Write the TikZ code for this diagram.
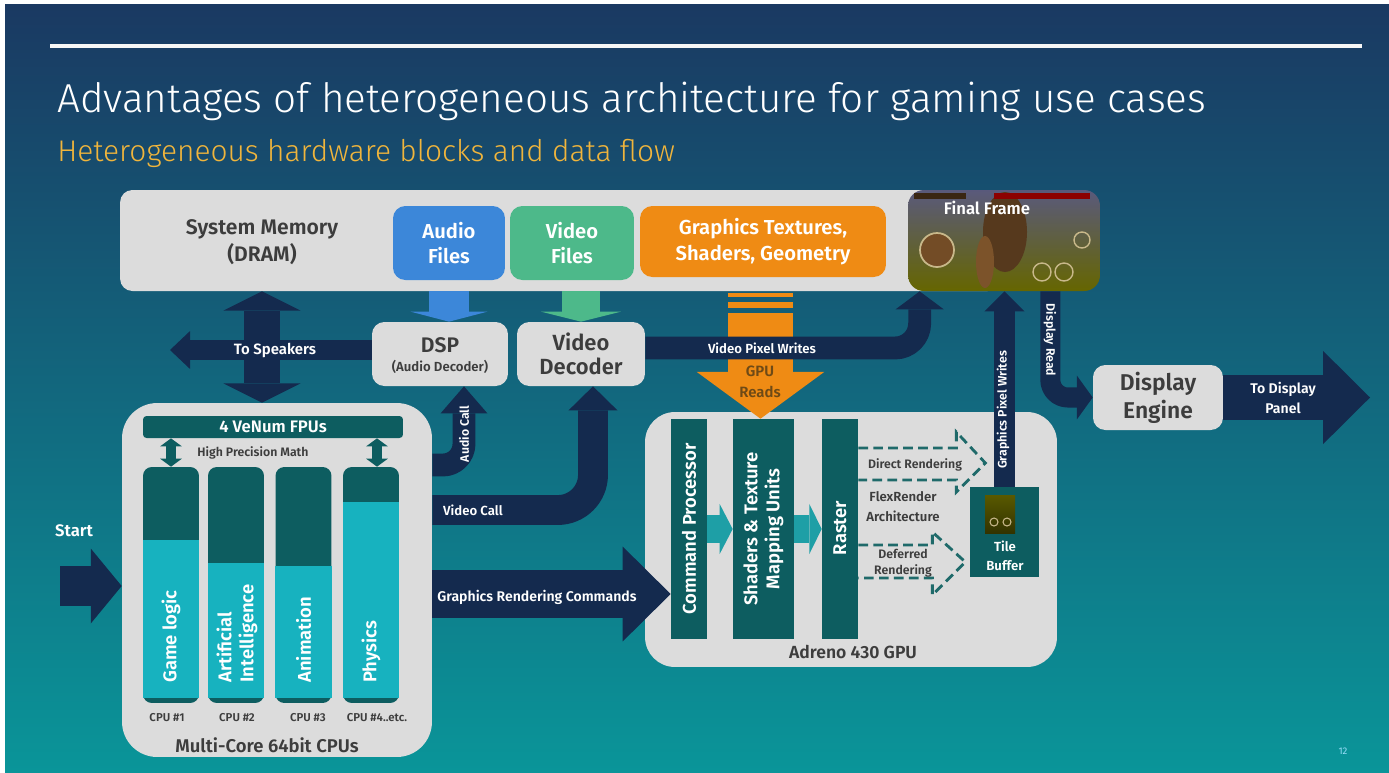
\documentclass[tikz,border=0pt]{standalone}
\usepackage{fontspec}
\setmainfont{Fira Sans}[BoldFont={Fira Sans SemiBold}]
\newfontfamily\lightfont{Fira Sans Light}
\usetikzlibrary{arrows.meta,calc}
\definecolor{bgtop}{HTML}{1A3962}
\definecolor{bgmid}{HTML}{106A7E}
\definecolor{bgbot}{HTML}{0A9599}
\definecolor{memgray}{HTML}{DCDCDC}
\definecolor{navy}{HTML}{142A4E}
\definecolor{audioblue}{HTML}{3C87D9}
\definecolor{videogreen}{HTML}{4DB98A}
\definecolor{gfxorange}{HTML}{EF8B14}
\definecolor{darkteal}{HTML}{0D5D60}
\definecolor{coreteal}{HTML}{17B2BF}
\definecolor{flowteal}{HTML}{1E9FA6}
\definecolor{txtgray}{HTML}{3D3D3D}
\definecolor{dashteal}{HTML}{1F6A6A}
\definecolor{subyellow}{HTML}{F0B53C}
\definecolor{readbrown}{HTML}{6E4A16}
\definecolor{hudbeige}{HTML}{C8B88A}
\newcommand{\txtsize}[2]{\fontsize{#1}{#2}\selectfont\bfseries}
\tikzstyle{graybox}=[fill=memgray, rounded corners=7pt, inner sep=0pt]
\tikzstyle{filebox}=[rounded corners=7pt, inner sep=0pt, minimum height=1.48cm, text=white, align=center, font=\txtsize{11.5}{14.5}]
\tikzstyle{tealbox}=[fill=darkteal, inner sep=0pt, minimum height=4.4cm]
\tikzstyle{corebox}=[fill=darkteal, rounded corners=5pt, inner sep=0pt, minimum width=1.12cm, minimum height=4.72cm]
\tikzstyle{darktxt}=[text=txtgray, align=center, inner sep=0pt]
\tikzstyle{whitetxt}=[text=white, align=center, inner sep=0pt]
\tikzstyle{coretxt}=[whitetxt, rotate=90, anchor=west, align=left, font=\txtsize{10.5}{12.5}]
\tikzstyle{navyflow}=[draw=navy, line join=round]
\tikzstyle{dashflow}=[draw=dashteal, line width=1.6pt, dash pattern=on 5.5pt off 3pt]

\begin{document}
\begin{tikzpicture}[x=0.02cm, y=-0.02cm]
\useasboundingbox (0,0) rectangle (1389,772);
\fill[white] (0,0) rectangle (1389,772);
\shade[top color=bgtop, middle color=bgmid, bottom color=bgbot] (5,4) rectangle (1389,772);
\draw[white!94!gray, line width=2.8pt] (50,46) -- (1362,46);
\node[anchor=base west, inner sep=0pt, text=white, font=\lightfont\fontsize{23}{27}\selectfont] (title) at (57,112) {Advantages of heterogeneous architecture for gaming use cases};
\node[anchor=base west, inner sep=0pt, text=subyellow, font=\lightfont\fontsize{17}{20}\selectfont] (subtitle) at (57,161) {Heterogeneous hardware blocks and data flow};

% memory row
\node[graybox, minimum width=17.6cm, minimum height=2.02cm] (mem) at (560,240.5) {};
\node[darktxt, font=\txtsize{12}{15}] (memtext) at (262,242) {System Memory\\(DRAM)};
\node[filebox, fill=audioblue, minimum width=2.24cm] (audio) at (449,243) {Audio\\Files};
\node[filebox, fill=videogreen, minimum width=2.48cm] (videof) at (572,243) {Video\\Files};
\node[filebox, fill=gfxorange, minimum width=4.92cm, minimum height=1.42cm, font=\txtsize{11.5}{14.5}] (gfx) at (763,241.5) {Graphics Textures,\\Shaders, Geometry};

% final frame
\node[rounded corners=9pt, inner sep=0pt, minimum width=3.84cm, minimum height=2.02cm, top color=black!55!blue!30!gray, middle color=black!50!olive, bottom color=olive!80!black] (frame) at (1004,240.5) {};
\fill[black!55!brown] (1005,232) ellipse [x radius=22, y radius=40];
\fill[black!35!brown] (985,262) ellipse [x radius=9, y radius=26];
\draw[hudbeige, line width=1pt, fill=black!40!brown] (937,250) circle [radius=17];
\draw[hudbeige, line width=0.8pt] (1042,272) circle [radius=9] (1064,272) circle [radius=9] (1082,240) circle [radius=8];
\fill[black!70!brown] (914,193) rectangle (966,199);
\fill[red!55!black] (994,193) rectangle (1090,199);
\node[whitetxt, font=\txtsize{9.5}{11}] (frametext) at (987,208) {Final Frame};

% decoders and display
\node[graybox, minimum width=2.72cm, minimum height=1.28cm] (dsp) at (440,354) {};
\node[darktxt, font=\txtsize{12}{14}] (dspname) at (440,345) {DSP};
\node[darktxt, font=\txtsize{7.5}{9}] (dspnote) at (440,367) {(Audio Decoder)};
\node[graybox, minimum width=2.56cm, minimum height=1.28cm, darktxt, font=\txtsize{12.5}{14}] (vdec) at (581,354) {Video\\Decoder};
\node[graybox, minimum width=2.6cm, minimum height=1.3cm, darktxt, font=\txtsize{13}{16}] (disp) at (1158,397.5) {Display\\Engine};

% cpu cluster
\node[fill=memgray, rounded corners=20pt, inner sep=0pt, minimum width=6.2cm, minimum height=7.08cm] (cpus) at (277,580) {};
\node[fill=darkteal, rounded corners=2pt, inner sep=0pt, minimum width=5.2cm, minimum height=0.44cm, whitetxt, font=\txtsize{9.5}{11}] (fpu) at (273,427) {4 VeNum FPUs};
\node[darktxt, font=\txtsize{7}{8}] (precision) at (253,453) {High Precision Math};
\node[corebox] (c1) at (171,585) {};
\node[corebox] (c2) at (236,585) {};
\node[corebox] (c3) at (303.5,585) {};
\node[corebox] (c4) at (371,585) {};
\fill[coreteal] ($(c1.south west)+(0,-5)$) rectangle ($(c1.south east)+(0,-163)$);
\fill[coreteal] ($(c2.south west)+(0,-5)$) rectangle ($(c2.south east)+(0,-140)$);
\fill[coreteal] ($(c3.south west)+(0,-5)$) rectangle ($(c3.south east)+(0,-137)$);
\fill[coreteal] ($(c4.south west)+(0,-5)$) rectangle ($(c4.south east)+(0,-201)$);
\node[coretxt] (c1text) at (171,683) {Game logic};
\node[coretxt] (c2text) at (237,683) {Artificial\\Intelligence};
\node[coretxt] (c3text) at (303.5,683) {Animation};
\node[coretxt] (c4text) at (371,683) {Physics};
\node[darktxt, font=\txtsize{6.5}{8}] (cpu1) at (167,718) {CPU \#1};
\node[darktxt, font=\txtsize{6.5}{8}] (cpu2) at (237,718) {CPU \#2};
\node[darktxt, font=\txtsize{6.5}{8}] (cpu3) at (308,718) {CPU \#3};
\node[darktxt, font=\txtsize{6.5}{8}] (cpu4) at (377,718) {CPU \#4..etc.};
\node[darktxt, font=\txtsize{10.5}{12}] (cpuname) at (267,745) {Multi-Core 64bit CPUs};
\draw[darkteal, line width=5.7pt, {Triangle[length=4.6pt,width=12.5pt,line width=0pt]}-{Triangle[length=4.6pt,width=12.5pt,line width=0pt]}] (c1 |- fpu.south) -- (c1.north);
\draw[darkteal, line width=5.7pt, {Triangle[length=4.6pt,width=12.5pt,line width=0pt]}-{Triangle[length=4.6pt,width=12.5pt,line width=0pt]}] ($(c4 |- fpu.south)+(6,0)$) -- ($(c4.north)+(6,0)$);

% gpu
\node[fill=memgray, rounded corners=17pt, inner sep=0pt, minimum width=8.24cm, minimum height=5.1cm] (gpu) at (851,539.5) {};
\node[tealbox, minimum width=0.72cm] (cp) at (689,529) {};
\node[tealbox, minimum width=1.22cm] (stmu) at (763.5,529) {};
\node[tealbox, minimum width=0.72cm] (raster) at (840,529) {};
\node[whitetxt, rotate=90, font=\txtsize{10.5}{12.5}] (cptext) at (689,529) {Command Processor};
\node[whitetxt, rotate=90, font=\txtsize{10.5}{12.5}] (stmutext) at (763.5,529) {Shaders \& Texture\\Mapping Units};
\node[whitetxt, rotate=90, font=\txtsize{10.5}{12.5}] (rastertext) at (840,528) {Raster};
\node[fill=darkteal, inner sep=0pt, minimum width=1.38cm, minimum height=1.8cm] (tile) at (1004.5,532) {};
\shade[top color=olive!70!black, bottom color=olive!40!black] (985,495) rectangle (1015,533);
\draw[hudbeige, line width=0.6pt] (994,522) circle [radius=4] (1007,522) circle [radius=4];
\node[whitetxt, font=\txtsize{7.5}{10.5}] (tiletext) at (1005,556) {Tile\\Buffer};
\node[darktxt, font=\txtsize{10}{12}] (gpuname) at (853,652) {Adreno 430 GPU};
\draw[draw=flowteal, line width=15.4pt, -{Triangle[length=7.4pt,width=28.5pt,line width=0pt]}] (cp.east) -- (stmu.west);
\draw[draw=flowteal, line width=15.4pt, -{Triangle[length=7pt,width=28.5pt,line width=0pt]}] (stmu.east) -- (raster.west);
\draw[dashflow] ($(raster.east)+(0,-81)$) -- ++(98,0) -- ++(0,-16) -- ++(29,31) -- ++(-29,29) -- ++(0,-12) -- ++(-98,0);
\draw[dashflow] ($(raster.east)+(0,16)$) -- ++(74,0) -- ++(0,-13) -- ++(33,30) -- ++(-33,33) -- ++(0,-17) -- ++(-74,0);
\node[darktxt, font=\txtsize{7}{9}] (direct) at (915,465) {Direct Rendering};
\node[darktxt, font=\txtsize{7.5}{11.5}] (flex) at (903,507) {FlexRender\\Architecture};
\node[darktxt, font=\txtsize{7}{9}] (deferred) at (903,563) {Deferred\\Rendering};

% data flow arrows
\draw[navyflow, line width=20pt, {Triangle[length=11pt,width=44pt,line width=0pt]}-{Triangle[length=11pt,width=44pt,line width=0pt]}] (memtext |- mem.south) -- (memtext |- cpus.north);
\coordinate (speakers) at (170,350);
\draw[navyflow, line width=11.4pt, -{Triangle[length=11.4pt,width=21.6pt,line width=0pt]}] (dsp.west |- speakers) -- (speakers);
\node[whitetxt, font=\txtsize{8.5}{10}] (speakertext) at (275,350) {To Speakers};
\draw[draw=audioblue, line width=22.8pt, -{Triangle[length=5.7pt,width=43.8pt,line width=0pt]}] (audio |- mem.south) -- (audio |- dsp.north);
\draw[draw=videogreen, line width=21.6pt, -{Triangle[length=5.7pt,width=45.5pt,line width=0pt]}] (vdec |- mem.south) -- (vdec.north);
\fill[gfxorange] (728,293) rectangle (793,297);
\fill[gfxorange] (728,302) rectangle (793,308);
\coordinate (gfxflow) at (760.5,313);
\draw[draw=gfxorange, line width=37pt, -{Triangle[length=26.7pt,width=72.8pt,line width=0pt]}] (gfxflow) -- (gfxflow |- stmu.north);
\node[text=readbrown, align=center, inner sep=0pt, font=\txtsize{8.5}{12}] (gpureads) at (760,382) {GPU\\Reads};
\draw[navyflow, line width=13pt, rounded corners=14pt, -{Triangle[length=10.2pt,width=27.3pt,line width=0pt]}] ($(vdec.east)+(0,-6)$) -| ($(frame.south west)+(12,0)$);
\node[whitetxt, font=\txtsize{7.5}{9}] (pixeltext) at (762,348) {Video Pixel Writes};
\draw[navyflow, line width=11.4pt, -{Triangle[length=11.4pt,width=22.8pt,line width=0pt]}] (tile.north) -- (tile |- frame.south);
\node[whitetxt, rotate=90, font=\txtsize{7}{8}] (gfxwrites) at (1003,410) {Graphics Pixel Writes};
\draw[navyflow, line width=11.4pt, rounded corners=10pt, -{Triangle[length=9pt,width=25pt,line width=0pt]}] ($(frame.south east)+(-50,0)$) |- (disp.west);
\node[whitetxt, rotate=-90, font=\txtsize{7}{8}] (dispread) at (1050,340) {Display Read};
\coordinate (panel) at (1370,396);
\draw[navyflow, line width=25.6pt, -{Triangle[length=26.7pt,width=53pt,line width=0pt]}] (disp.east) -- (panel |- disp.east);
\node[whitetxt, font=\txtsize{8}{11.5}] (paneltext) at (1283,398) {To Display\\Panel};
\coordinate (start) at (60,586);
\draw[navyflow, line width=23.3pt, -{Triangle[length=17.6pt,width=42.7pt,line width=0pt]}] (start) -- (start -| cpus.west);
\node[whitetxt, font=\txtsize{9.5}{11}] (starttext) at (74,531) {Start};
\draw[navyflow, line width=13pt, rounded corners=12pt, -{Triangle[length=15.4pt,width=26.7pt,line width=0pt]}] ($(cpus.east)+(0,-115)$) -| ($(dsp.south)+(24,0)$);
\node[whitetxt, rotate=90, font=\txtsize{7}{8}] (audiocall) at (464,434) {Audio Call};
\draw[navyflow, line width=17pt, rounded corners=20pt, -{Triangle[length=13.7pt,width=27.9pt,line width=0pt]}] ($(cpus.east)+(0,-70)$) -| ($(vdec.south)+(12,0)$);
\node[whitetxt, font=\txtsize{7.5}{9}] (videocall) at (473,510) {Video Call};
\draw[navyflow, line width=27.3pt, -{Triangle[length=27.3pt,width=54pt,line width=0pt]}] ($(cpus.east)+(0,14)$) -- ($(cp.west)+(0,65)$);
\node[whitetxt, font=\txtsize{8}{10}] (gfxcmds) at (537,597) {Graphics Rendering Commands};
\node[text=cyan!40!white, inner sep=0pt, font=\fontsize{5.5}{6}\selectfont] (pagenum) at (1343,751) {12};
\end{tikzpicture}
\end{document}
